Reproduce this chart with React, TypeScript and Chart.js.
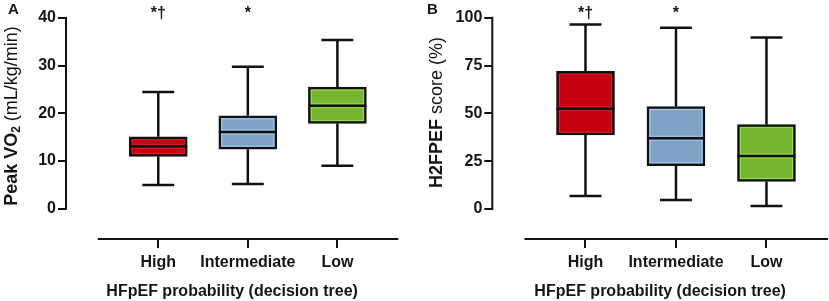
import React, { useEffect, useRef } from 'react';
import { Chart, registerables } from 'chart.js';

Chart.register(...registerables);

// ---- shared categories / styling data ----
const categories = ['High', 'Intermediate', 'Low'];
const boxColors = ['#C3000F', '#7FA3C6', '#76B52F'];
const boxInnerColors = ['#D8202C', '#AACBEA', '#9CDB55'];
const annotations = ['*†', '*', ''];
const xAxisTitle = 'HFpEF probability (decision tree)';

// ---- Panel A: Peak VO2 (mL/kg/min) ----
const vo2Min = [5.0, 5.2, 9.0];
const vo2Q1 = [11.0, 12.5, 17.9];
const vo2Median = [13.1, 16.1, 21.6];
const vo2Q3 = [15.1, 19.5, 25.5];
const vo2Max = [24.5, 29.8, 35.4];
const vo2Ticks = [0, 10, 20, 30, 40];

// ---- Panel B: H2FPEF score (%) ----
const h2Min = [6.8, 4.7, 1.6];
const h2Q1 = [38.7, 22.6, 14.4];
const h2Median = [52.4, 37.0, 27.7];
const h2Q3 = [72.0, 53.6, 44.1];
const h2Max = [96.5, 94.8, 89.7];
const h2Ticks = [0, 25, 50, 75, 100];

const FONT = "'Liberation Sans', Arial, Helvetica, sans-serif";
const TEXT = '#141414';

type Seg = { t: string; weight: string; size: number; shift: number };

type PanelDef = {
  letter: string;
  letterX: number;
  min: number[];
  q1: number[];
  median: number[];
  q3: number[];
  max: number[];
  ticks: number[];
  yMin: number;
  yAxisWidth: number;
  titleSegs: Seg[];
  titleX: number;
  titleY: number;
  padding: { left: number; right: number; top: number; bottom: number };
};

const panelA: PanelDef = {
  letter: 'A',
  letterX: 8,
  min: vo2Min,
  q1: vo2Q1,
  median: vo2Median,
  q3: vo2Q3,
  max: vo2Max,
  ticks: vo2Ticks,
  yMin: -6.34,
  yAxisWidth: 66,
  titleSegs: [
    { t: 'Peak VO', weight: 'bold', size: 18, shift: 0 },
    { t: '2', weight: 'bold', size: 12, shift: 3 },
    { t: ' (mL/kg/min)', weight: 'normal', size: 18, shift: 0 },
  ],
  titleX: 17,
  titleY: 116,
  padding: { left: 0, right: 15.7, top: 18, bottom: 0 },
};

const panelB: PanelDef = {
  letter: 'B',
  letterX: 12,
  min: h2Min,
  q1: h2Q1,
  median: h2Median,
  q3: h2Q3,
  max: h2Max,
  ticks: h2Ticks,
  yMin: -15.68,
  yAxisWidth: 77.3,
  titleSegs: [
    { t: 'H2FPEF', weight: 'bold', size: 18, shift: 0 },
    { t: ' score (%)', weight: 'normal', size: 18, shift: 0 },
  ],
  titleX: 26.7,
  titleY: 112.5,
  padding: { left: 0, right: 1, top: 17.7, bottom: 0 },
};

function makePlugin(p: PanelDef) {
  return {
    id: 'boxExtras',
    afterDraw(chart: any) {
      const { ctx, chartArea } = chart;
      const xs = chart.scales.x;
      const ys = chart.scales.y;
      const meta = chart.getDatasetMeta(0);
      ctx.save();
      // axis lines
      ctx.strokeStyle = '#111';
      ctx.lineWidth = 2;
      ctx.lineCap = 'butt';
      ctx.beginPath();
      const yTop = ys.getPixelForValue(p.ticks[p.ticks.length - 1]);
      const yZero = ys.getPixelForValue(p.ticks[0]);
      ctx.moveTo(chartArea.left, yTop - 1);
      ctx.lineTo(chartArea.left, yZero + 1);
      ctx.stroke();
      ctx.beginPath();
      ctx.moveTo(xs.getPixelForValue(0.325), chartArea.bottom);
      ctx.lineTo(chartArea.right, chartArea.bottom);
      ctx.stroke();
      // x tick marks at the category ticks
      ctx.beginPath();
      xs.ticks.forEach((t: any) => {
        const px = Math.round(xs.getPixelForValue(t.value));
        ctx.moveTo(px, chartArea.bottom);
        ctx.lineTo(px, chartArea.bottom + 9);
      });
      ctx.stroke();

      // whiskers, caps, medians, inner highlights
      meta.data.forEach((el: any, i: number) => {
        const props = el.getProps(['x', 'width'], true);
        const cx = props.x;
        const half = props.width / 2;
        const capHalf = props.width * 0.275;
        const pMin = ys.getPixelForValue(p.min[i]);
        const pMax = ys.getPixelForValue(p.max[i]);
        const pQ1 = ys.getPixelForValue(p.q1[i]);
        const pQ3 = ys.getPixelForValue(p.q3[i]);
        const pMed = ys.getPixelForValue(p.median[i]);
        const bw = 2.5;

        // inner highlight
        ctx.strokeStyle = boxInnerColors[i];
        ctx.lineWidth = 1;
        ctx.strokeRect(cx - half + bw + 0.5, pQ3 + bw + 0.5, props.width - 2 * bw - 1, pQ1 - pQ3 - 2 * bw - 1);
        ctx.beginPath();
        ctx.moveTo(cx - half + bw, pMed - 2);
        ctx.lineTo(cx + half - bw, pMed - 2);
        ctx.moveTo(cx - half + bw, pMed + 2);
        ctx.lineTo(cx + half - bw, pMed + 2);
        ctx.stroke();

        ctx.strokeStyle = '#111';
        ctx.lineWidth = 2.5;
        ctx.beginPath();
        ctx.moveTo(cx, pQ3);
        ctx.lineTo(cx, pMax);
        ctx.moveTo(cx - capHalf, pMax);
        ctx.lineTo(cx + capHalf, pMax);
        ctx.moveTo(cx, pQ1);
        ctx.lineTo(cx, pMin);
        ctx.moveTo(cx - capHalf, pMin);
        ctx.lineTo(cx + capHalf, pMin);
        ctx.moveTo(cx - half, pMed);
        ctx.lineTo(cx + half, pMed);
        ctx.stroke();
      });

      // significance annotations
      ctx.fillStyle = TEXT;
      ctx.font = `bold 16px ${FONT}`;
      ctx.textAlign = 'center';
      ctx.textBaseline = 'alphabetic';
      annotations.forEach((a, i) => {
        if (a) ctx.fillText(a, xs.getPixelForValue(i + 1), 17.5);
      });

      // panel letter
      ctx.textAlign = 'left';
      ctx.font = `bold 15px ${FONT}`;
      ctx.fillText(p.letter, p.letterX, 13.5);

      // rotated y title with mixed fonts
      ctx.translate(p.titleX, p.titleY);
      ctx.rotate(-Math.PI / 2);
      let total = 0;
      p.titleSegs.forEach((s) => {
        ctx.font = `${s.weight} ${s.size}px ${FONT}`;
        total += ctx.measureText(s.t).width;
      });
      let pos = -total / 2;
      p.titleSegs.forEach((s) => {
        ctx.font = `${s.weight} ${s.size}px ${FONT}`;
        ctx.fillText(s.t, pos, s.shift);
        pos += ctx.measureText(s.t).width;
      });
      ctx.restore();
    },
  };
}

function makeConfig(p: PanelDef): any {
  return {
    type: 'bar',
    data: {
      datasets: [
        {
          data: categories.map((c, i) => ({ x: i + 1, y: [p.q1[i], p.q3[i]] })),
          backgroundColor: boxColors,
          borderColor: '#111',
          borderWidth: 2.5,
          borderSkipped: false,
          barThickness: 58,
        },
      ],
    },
    options: {
      animation: false,
      responsive: false,
      events: [],
      layout: { padding: p.padding },
      plugins: { legend: { display: false }, tooltip: { enabled: false } },
      scales: {
        x: {
          type: 'linear',
          offset: false,
          min: -0.03,
          max: 3.68,
          afterBuildTicks: (s: any) => {
            s.ticks = categories.map((c, i) => ({ value: i + 1 }));
          },
          afterFit: (s: any) => {
            s.height = 62;
          },
          ticks: {
            autoSkip: false,
            maxRotation: 0,
            padding: 6,
            color: TEXT,
            font: { family: FONT, size: 16, weight: 'bold' },
            callback: (v: any) => categories[Math.round(v) - 1] ?? '',
          },
          grid: {
            display: true,
            offset: false,
            drawOnChartArea: false,
            drawTicks: true,
            tickLength: 8,
            color: 'rgba(0,0,0,0)',
            lineWidth: 2,
          },
          border: { display: false },
          title: {
            display: true,
            text: xAxisTitle,
            color: TEXT,
            font: { family: FONT, size: 16, weight: 'bold' },
            padding: { top: 4, bottom: 0 },
          },
        },
        y: {
          type: 'linear',
          min: p.yMin,
          max: p.ticks[p.ticks.length - 1],
          afterBuildTicks: (s: any) => {
            s.ticks = p.ticks.map((v) => ({ value: v }));
          },
          afterFit: (s: any) => {
            s.width = p.yAxisWidth;
          },
          ticks: {
            padding: 2,
            color: TEXT,
            font: { family: FONT, size: 16, weight: 'bold' },
          },
          grid: {
            display: true,
            drawOnChartArea: false,
            drawTicks: true,
            tickLength: 8,
            color: '#111',
            lineWidth: 2,
          },
          border: { display: false },
        },
      },
    },
    plugins: [makePlugin(p)],
  };
}

function Panel({ def, left, width }: { def: PanelDef; left: number; width: number }) {
  const ref = useRef<HTMLCanvasElement>(null);
  useEffect(() => {
    if (!ref.current) return;
    const chart = new Chart(ref.current, makeConfig(def));
    return () => chart.destroy();
  }, [def]);
  return (
    <canvas
      ref={ref}
      width={width}
      height={301}
      style={{ position: 'absolute', left, top: 0, width, height: 301 }}
    />
  );
}

export default function App() {
  return (
    <div style={{ position: 'absolute', left: 0, top: 0, width: 829, height: 301, background: '#fff', overflow: 'hidden' }}>
      <Panel def={panelA} left={0} width={414} />
      <Panel def={panelB} left={415} width={414} />
    </div>
  );
}
